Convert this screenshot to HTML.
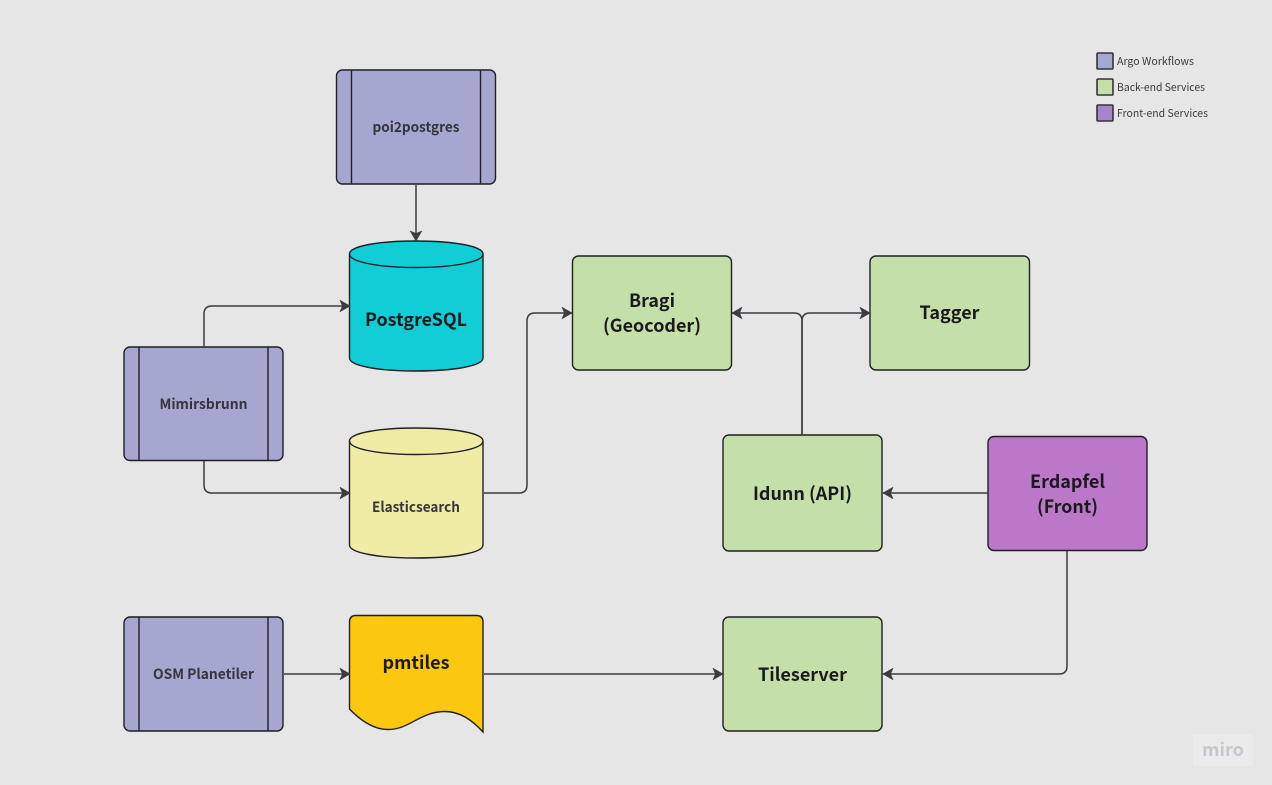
<!DOCTYPE html>
<html><head><meta charset="utf-8"><style>
html,body{margin:0;padding:0;background:#e6e6e6}
svg{display:block}
text{font-family:"Noto Sans CJK JP","Liberation Sans",sans-serif;font-weight:700;text-anchor:middle}
.s{fill:#36343c;font-size:14px}
.b{fill:#1a1a1e;font-size:18px}
.l{fill:#3a3a40;font-size:11px;font-weight:400;text-anchor:start}
.c{fill:none;stroke:#3b3b40;stroke-width:1.5}
.n{stroke:#1f1f24;stroke-width:1.4}
.g{fill:#c5dfa8}.p{fill:#a5a7d0}
</style></head><body>
<svg width="1272" height="785" viewBox="0 0 1272 785" xmlns="http://www.w3.org/2000/svg">
<defs><marker id="a" markerUnits="userSpaceOnUse" markerWidth="14" markerHeight="14" refX="12" refY="7" orient="auto-start-reverse"><path d="M2 1.200L12 7L2 12.800L4.500 7Z" fill="#3b3b40" stroke="#3b3b40" stroke-width=".6" stroke-linejoin="round"/></marker></defs>
<rect width="1272" height="785" fill="#e6e6e6"/>
<!-- process nodes -->
<g class="n p">
<rect x="336.500" y="70" width="159" height="114" rx="6"/>
<rect x="124" y="347" width="159" height="113.500" rx="6"/>
<rect x="124" y="617" width="159" height="114" rx="6"/>
</g>
<g class="n" fill="none">
<path d="M351.500 70V184M480.500 70V184"/>
<path d="M139 347V460.500M268 347V460.500"/>
<path d="M139 617V731M268 617V731"/>
</g>
<!-- cylinders -->
<path class="n" fill="#11cdd6" d="M349.500 254C349.500 246 379 241 416 241S483 246 483 254V358C483 366 453 371 416 371S349.500 366 349.500 358Z"/>
<path class="n" fill="none" d="M349.500 254C349.500 262 379 267.500 416 267.500S483 262 483 254"/>
<path class="n" fill="#f0eca6" d="M349.500 441C349.500 433 379 428 416 428S483 433 483 441V545C483 553 453 558 416 558S349.500 553 349.500 545Z"/>
<path class="n" fill="none" d="M349.500 441C349.500 449 379 454.500 416 454.500S483 449 483 441"/>
<!-- document -->
<path class="n" fill="#fbc70f" d="M349.500 622Q349.500 615.500 356 615.500H476.500Q483 615.500 483 622V732C472 720 460 711.500 445 711.500C420 711.500 410 729.500 388 729.500C375 729.500 362 722 349.500 709Z"/>
<!-- service nodes -->
<g class="n g">
<rect x="572.500" y="256" width="159" height="114" rx="6"/>
<rect x="870" y="256" width="159.500" height="114" rx="6"/>
<rect x="723" y="435" width="159" height="116" rx="6"/>
<rect x="723" y="617" width="159" height="114" rx="6"/>
</g>
<rect class="n" fill="#bb77c8" x="988" y="436.500" width="159" height="114" rx="6"/>
<!-- connectors -->
<g class="c">
<path d="M416 185V241" marker-end="url(#a)"/>
<path d="M204 347V314Q204 306 212 306H350" marker-end="url(#a)"/>
<path d="M204 461V485Q204 493 212 493H350" marker-end="url(#a)"/>
<path d="M484 493H519Q527 493 527 485V321Q527 313 535 313H572" marker-end="url(#a)"/>
<path d="M802 435V321Q802 313 794 313H732" marker-end="url(#a)"/>
<path d="M802 435V321Q802 313 810 313H870" marker-end="url(#a)"/>
<path d="M988 493H883" marker-end="url(#a)"/>
<path d="M1067 551V666Q1067 674 1059 674H883" marker-end="url(#a)"/>
<path d="M284 674H350" marker-end="url(#a)"/>
<path d="M484 674H723" marker-end="url(#a)"/>
</g>
<!-- labels -->
<text class="s" x="416" y="132" textLength="87" lengthAdjust="spacingAndGlyphs">poi2postgres</text>
<text class="s" x="203.500" y="409" textLength="88" lengthAdjust="spacingAndGlyphs">Mimirsbrunn</text>
<text class="s" x="203.500" y="679" textLength="101" lengthAdjust="spacingAndGlyphs">OSM Planetiler</text>
<text class="s" x="416" y="512" textLength="88" lengthAdjust="spacingAndGlyphs">Elasticsearch</text>
<text class="b" x="416" y="326" textLength="102" lengthAdjust="spacingAndGlyphs">PostgreSQL</text>
<text class="b" x="416" y="669" textLength="67" lengthAdjust="spacingAndGlyphs">pmtiles</text>
<text class="b" x="652" y="307" textLength="46" lengthAdjust="spacingAndGlyphs">Bragi</text>
<text class="b" x="652" y="332" textLength="98" lengthAdjust="spacingAndGlyphs">(Geocoder)</text>
<text class="b" x="949.500" y="319" textLength="60" lengthAdjust="spacingAndGlyphs">Tagger</text>
<text class="b" x="802.500" y="500" textLength="99" lengthAdjust="spacingAndGlyphs">Idunn (API)</text>
<text class="b" x="1067.500" y="488" textLength="75" lengthAdjust="spacingAndGlyphs">Erdapfel</text>
<text class="b" x="1067.500" y="513" textLength="61" lengthAdjust="spacingAndGlyphs">(Front)</text>
<text class="b" x="802.500" y="681" textLength="89" lengthAdjust="spacingAndGlyphs">Tileserver</text>
<!-- legend -->
<g stroke="#34343a" stroke-width="1.6">
<rect x="1097" y="53" width="16" height="16" rx="1" fill="#a6a8d0"/>
<rect x="1097" y="79" width="16" height="16" rx="1" fill="#c5dfa8"/>
<rect x="1097" y="105" width="16" height="16" rx="1" fill="#a684c8"/>
</g>
<text class="l" x="1117" y="65" textLength="77" lengthAdjust="spacingAndGlyphs">Argo Workflows</text>
<text class="l" x="1117" y="91" textLength="88" lengthAdjust="spacingAndGlyphs">Back-end Services</text>
<text class="l" x="1117" y="117" textLength="91" lengthAdjust="spacingAndGlyphs">Front-end Services</text>
<!-- watermark -->
<rect x="1193" y="734" width="60" height="32" rx="2" fill="#ebebeb"/>
<text x="1223" y="756" style="font-size:18px;font-weight:700" fill="#c6c6cf" textLength="42" lengthAdjust="spacingAndGlyphs">miro</text>
</svg>
</body></html>
